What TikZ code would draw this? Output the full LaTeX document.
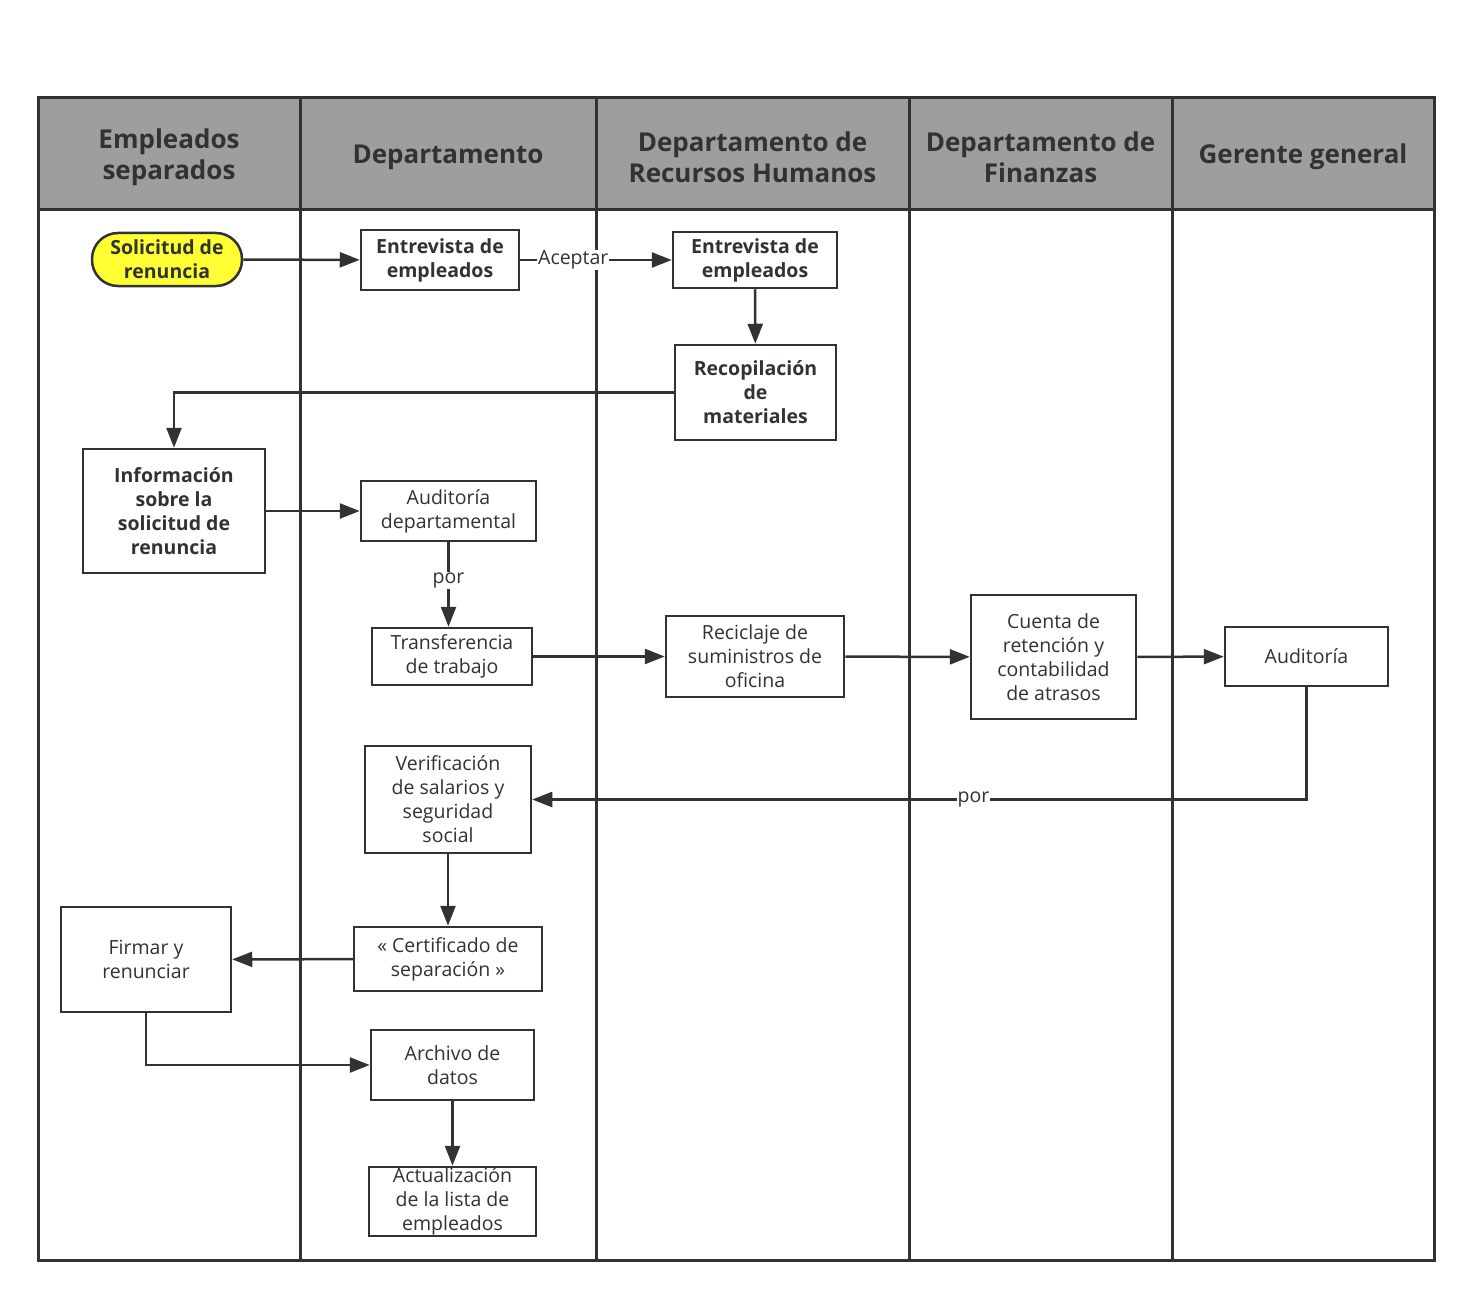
\documentclass[tikz,border=0pt]{standalone}
\usepackage{fontspec}
\setmainfont{Open Sans}
\usetikzlibrary{arrows.meta}
\definecolor{ln}{HTML}{2F3336}
\definecolor{hdr}{HTML}{9E9E9E}
\definecolor{yel}{HTML}{FFFF33}
\begin{document}
\begin{tikzpicture}[x=1pt,y=-1pt,
  box/.style={draw=ln, line width=2.5pt, fill=white, align=center, inner sep=0pt, text=ln, font=\fontsize{19.5}{24}\selectfont},
  bbox/.style={box, font=\fontsize{19.5}{24}\selectfont\bfseries},
  hd/.style={align=center, text=ln, font=\fontsize{26}{31}\selectfont\bfseries},
  arr/.style={draw=ln, line width=2.5pt, -{Triangle[length=20pt,width=15pt]}},
  lbl/.style={fill=white, inner sep=1pt, text=ln, font=\fontsize{19.5}{24}\selectfont},
  lane/.style={draw=ln, line width=3pt}]
\useasboundingbox (0,0) rectangle (1471,1297);
% header and lanes
\fill[hdr] (38,98) rectangle (1434,210);
\draw[lane] (38,98) rectangle (1434,1260);
\draw[lane] (38,210) -- (1434,210);
\foreach \x in {300,596,909,1172} \draw[lane] (\x,98) -- (\x,1260);
\node[hd] (h1) at (169,157) {Empleados\\separados};
\node[hd] (h2) at (448,157) {Departamento};
\node[hd] (h3) at (752.5,157) {Departamento de\\Recursos Humanos};
\node[hd] (h4) at (1040.5,157) {Departamento de\\Finanzas};
\node[hd] (h5) at (1303,157) {Gerente general};
% nodes
\node[bbox, fill=yel, rounded corners=26pt, minimum width=150pt, minimum height=53pt] (sol) at (167,259.5) {Solicitud de\\renuncia};
\node[bbox, minimum width=158pt, minimum height=60pt] (e1) at (440,260) {Entrevista de\\empleados};
\node[bbox, minimum width=164pt, minimum height=56pt] (e2) at (755,260) {Entrevista de\\empleados};
\node[bbox, minimum width=161pt, minimum height=95pt] (rec) at (755.5,392.5) {Recopilación\\de\\materiales};
\node[bbox, minimum width=182pt, minimum height=124pt] (inf) at (174,511) {Información\\sobre la\\solicitud de\\renuncia};
\node[box, minimum width=175pt, minimum height=60pt] (ad) at (448.5,511) {Auditoría\\departamental};
\node[box, minimum width=160pt, minimum height=57pt] (tr) at (452,656.5) {Transferencia\\de trabajo};
\node[box, minimum width=178pt, minimum height=81pt] (rc) at (755,656.5) {Reciclaje de\\suministros de\\oficina};
\node[box, minimum width=165pt, minimum height=124pt] (cu) at (1053.5,657) {Cuenta de\\retención y\\contabilidad\\de atrasos};
\node[box, minimum width=163pt, minimum height=59pt] (au) at (1306.5,656.5) {Auditoría};
\node[box, minimum width=166pt, minimum height=107pt] (ve) at (448,799.5) {Verificación\\de salarios y\\seguridad\\social};
\node[box, minimum width=188pt, minimum height=64pt] (ce) at (448,959) {« Certificado de\\separación »};
\node[box, minimum width=170pt, minimum height=105pt] (fi) at (146,959.5) {Firmar y\\renunciar};
\node[box, minimum width=163pt, minimum height=70pt] (ar) at (452.5,1065) {Archivo de\\datos};
\node[box, minimum width=167pt, minimum height=69pt] (ac) at (452.5,1201.5) {Actualización\\de la lista de\\empleados};
% connectors
\draw[arr] (sol) -- (e1);
\draw[arr] (e1) -- node[lbl, pos=0.35]{Aceptar} (e2);
\draw[arr] (e2) -- (rec);
\draw[arr] (rec.west) -| (inf.north);
\draw[arr] (inf.east |- ad.west) -- (ad.west);
\draw[arr] (ad.south) -- node[lbl, pos=0.45]{por} (ad.south |- tr.north);
\draw[arr] (tr) -- (rc);
\draw[arr] (rc) -- (cu);
\draw[arr] (cu) -- (au);
\draw[arr] (au.south) |- node[lbl, pos=0.715]{por} (ve.east);
\draw[arr] (ve) -- (ce);
\draw[arr] (ce) -- (fi);
\draw[arr] (fi.south) |- (ar.west);
\draw[arr] (ar) -- (ac);
\end{tikzpicture}
\end{document}
